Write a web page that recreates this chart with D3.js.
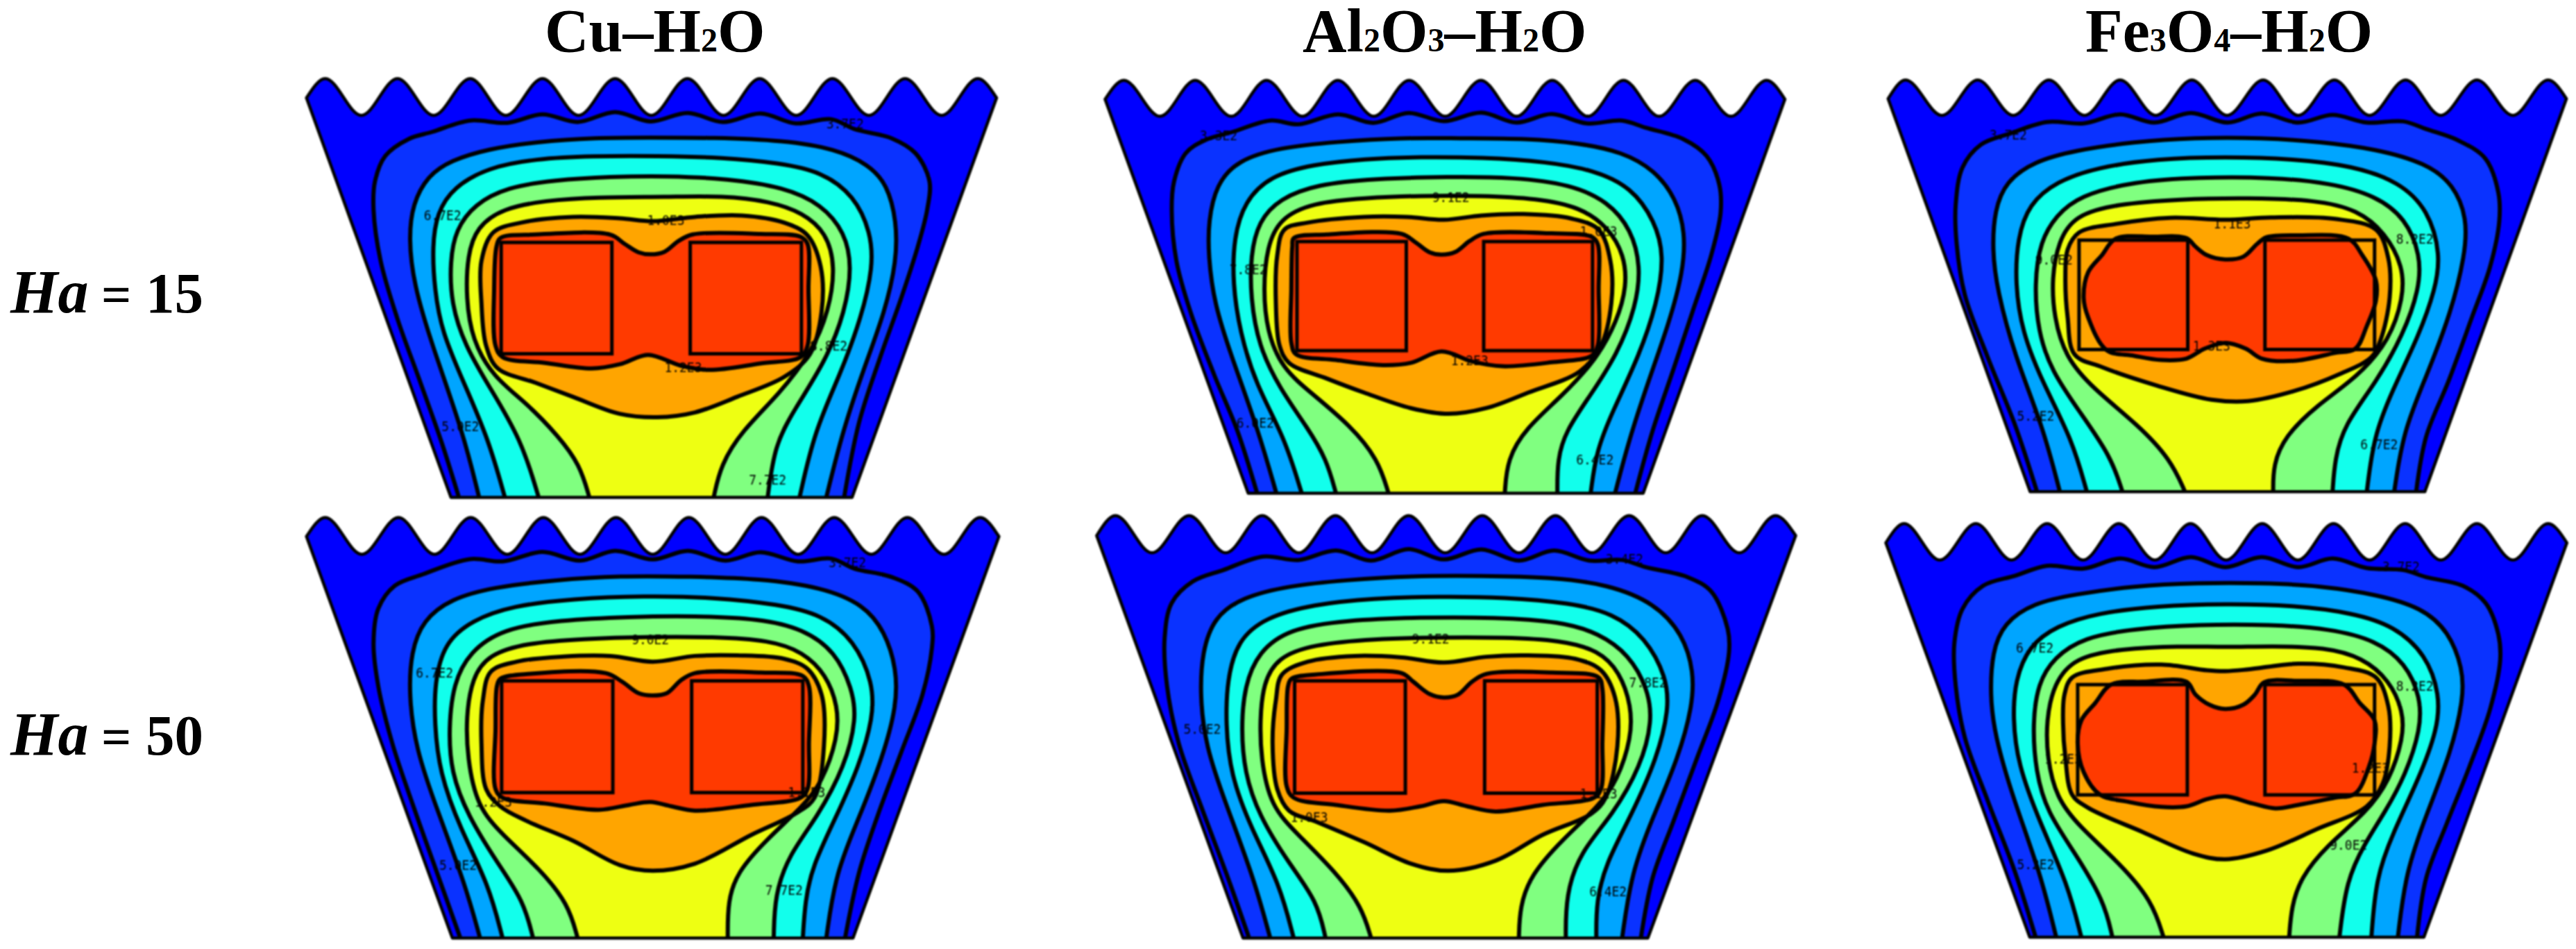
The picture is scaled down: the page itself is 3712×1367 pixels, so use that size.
<!DOCTYPE html>
<html>
<head>
<meta charset="utf-8">
<script src="https://cdn.jsdelivr.net/npm/d3@7"></script>
<style>
  html, body { margin: 0; background: #fff; }
  .title { font-family: "Liberation Serif", serif; font-weight: bold; }
  .iso { font-family: "DejaVu Sans Mono", monospace; font-size: 19px; fill: #000; text-anchor: middle; dominant-baseline: central; }
</style>
</head>
<body>
<div class="chart"></div>
<script>
// DATA ------------------------------------

const columnTitles = [
  [['Cu–H', 0], ['2', 1], ['O', 0]],
  [['Al', 0], ['2', 1], ['O', 0], ['3', 1], ['–H', 0], ['2', 1], ['O', 0]],
  [['Fe', 0], ['3', 1], ['O', 0], ['4', 1], ['–H', 0], ['2', 1], ['O', 0]],
];
const rowValues = [15, 50];

// temperature band colours, coolest (wall) to hottest (block)
const bandLevels = [0, 1, 2, 3, 4, 5, 6, 7];
const bandColors = ['#0000ff', '#0a32ff', '#00a5ff', '#12ffec', '#80ff80', '#eeff12', '#ffa500', '#ff3a00'];

// wavy top wall of each cavity: x of crests, x of troughs, y crest, y trough, y corner
const crestX = [
  [72, 226, 381, 535, 690, 844, 998, 1153, 1308, 1463],
  [88, 240, 392, 544, 696, 849, 1001, 1153, 1306, 1458],
  [100, 258, 414, 570, 727, 883, 1039, 1195, 1351, 1507],
  [72, 228, 382, 537, 692, 847, 1002, 1157, 1313, 1468],
  [70, 227, 383, 539, 695, 852, 1008, 1165, 1321, 1477],
  [97, 254, 410, 567, 724, 881, 1037, 1194, 1351, 1507],
];
const troughX = [
  [149, 303, 457, 612, 767, 921, 1076, 1231, 1386],
  [165, 317, 469, 621, 773, 925, 1077, 1229, 1382],
  [180, 336, 492, 648, 804, 960, 1116, 1272, 1430],
  [150, 305, 460, 615, 770, 925, 1080, 1236, 1391],
  [148, 305, 461, 617, 773, 930, 1086, 1243, 1400],
  [175, 332, 489, 646, 802, 959, 1116, 1272, 1430],
];
const crestY = [57, 63, 62, 62, 55, 83];
const troughY = [187, 190, 187, 190, 185, 210];
const cornerY = [125, 130, 128, 128, 125, 150];
const cornerX = [[32, 1503], [48, 1497], [62, 1547], [32, 1508], [30, 1520], [57, 1548]];
const baseX = [[340, 1195], [353, 1195], [373, 1237], [343, 1197], [342, 1205], [372, 1235]];
const baseY = [1535, 1520, 1515, 1530, 1530, 1527];

// heated blocks: left x0, x1, right x0, x1, top, bottom
const blocks = [
  [447, 683, 850, 1087, 635, 1028],
  [457, 690, 855, 1087, 632, 1017],
  [480, 718, 887, 1127, 627, 1013],
  [448, 685, 853, 1090, 632, 1022],
  [452, 688, 857, 1097, 632, 1024],
  [477, 717, 887, 1127, 645, 1030],
];

const cuHa15 = [
  [[357,1535],[320,1340],[275,1130],[225,900],[190,700],[175,520],[178,420],[200,330],[250,270],[300,245],[380,205],[460,213],[535,183],[610,210],[690,175],[765,208],[845,178],[920,210],[1000,180],[1075,215],[1150,200],[1200,235],[1280,268],[1330,320],[1360,420],[1355,520],[1335,650],[1300,830],[1255,1040],[1210,1270],[1178,1535]],
  [[400,1535],[365,1300],[300,1000],[260,780],[250,620],[258,500],[290,400],[340,345],[420,305],[520,280],[650,265],[760,265],[900,265],[1050,275],[1160,305],[1230,360],[1270,430],[1290,560],[1290,700],[1265,880],[1220,1080],[1175,1300],[1140,1535]],
  [[455,1535],[420,1330],[370,1140],[320,950],[305,800],[300,650],[310,530],[345,440],[420,370],[520,340],[640,330],[780,330],[920,335],[1040,355],[1130,385],[1200,470],[1235,600],[1240,720],[1215,900],[1170,1100],[1115,1300],[1083,1535]],
  [[527,1535],[490,1330],[420,1140],[370,1000],[340,850],[338,700],[350,590],[390,500],[460,440],[560,415],[680,403],[800,400],[930,410],[1050,440],[1130,500],[1180,600],[1195,720],[1180,880],[1140,1050],[1070,1230],[1030,1350],[1015,1535]],
  [[635,1535],[615,1420],[570,1320],[500,1200],[430,1110],[385,980],[372,830],[375,680],[395,580],[450,515],[540,487],[650,475],[800,475],[920,470],[1020,490],[1090,530],[1140,600],[1160,720],[1145,880],[1110,1020],[1040,1170],[960,1300],[915,1420],[900,1535]],
  [[430,600],[490,565],[600,545],[700,550],[770,560],[860,545],[960,540],[1050,565],[1100,610],[1128,720],[1130,880],[1105,1030],[1050,1110],[950,1180],[860,1235],[780,1252],[700,1240],[600,1180],[520,1130],[440,1080],[415,1000],[405,850],[405,700]],
  [[445,620],[520,607],[680,608],[710,640],[740,670],[765,677],[795,668],[825,630],[855,607],[1000,605],[1085,615],[1100,640],[1102,800],[1100,1000],[1085,1040],[1000,1062],[890,1085],[830,1070],[760,1032],[700,1065],[640,1080],[540,1060],[450,1040],[435,1000],[432,800],[437,650]],
];
const alHa15 = [
  [[372,1520],[330,1300],[280,1100],[230,880],[200,700],[190,520],[195,420],[220,320],[260,275],[320,245],[400,205],[460,218],[545,183],[620,213],[695,178],[770,207],[850,177],[925,212],[1000,182],[1075,215],[1150,205],[1200,230],[1280,270],[1330,330],[1357,430],[1360,530],[1340,680],[1300,880],[1260,1080],[1215,1300],[1178,1520]],
  [[413,1520],[375,1300],[320,1050],[280,850],[268,680],[268,560],[285,430],[330,345],[420,300],[540,280],[680,265],[800,268],[950,268],[1060,285],[1150,315],[1220,380],[1265,480],[1285,600],[1280,740],[1250,920],[1205,1130],[1165,1330],[1135,1520]],
  [[467,1520],[430,1320],[370,1140],[335,950],[320,780],[322,620],[345,490],[400,400],[490,360],[600,340],[720,333],[850,335],[990,350],[1090,380],[1170,440],[1220,560],[1240,680],[1225,850],[1185,1040],[1130,1230],[1095,1370],[1083,1520]],
  [[540,1520],[520,1400],[480,1290],[420,1150],[375,1000],[358,830],[358,680],[375,560],[420,480],[500,430],[620,410],[780,403],[920,405],[1040,430],[1120,490],[1170,590],[1190,720],[1180,860],[1140,1030],[1080,1180],[1030,1300],[1012,1400],[1012,1520]],
  [[652,1520],[630,1400],[570,1280],[490,1170],[425,1080],[393,950],[385,800],[393,650],[420,550],[490,495],[600,478],[720,470],[850,470],[970,480],[1060,510],[1120,580],[1155,680],[1160,790],[1140,910],[1095,1050],[1020,1180],[945,1290],[905,1400],[900,1520]],
  [[430,590],[480,565],[600,545],[690,545],[770,555],[850,540],[940,535],[1040,550],[1100,590],[1125,700],[1127,850],[1105,1000],[1060,1090],[950,1165],[860,1220],[780,1240],[700,1220],[600,1165],[520,1115],[440,1060],[420,1000],[412,850],[415,680]],
  [[450,620],[520,607],[680,605],[710,635],[740,670],[765,678],[795,668],[825,630],[855,605],[1000,603],[1085,615],[1098,640],[1100,800],[1098,1000],[1085,1035],[1000,1058],[895,1072],[830,1055],[765,1020],[700,1060],[640,1068],[540,1050],[455,1030],[445,990],[445,800],[447,650]],
];
const feHa15 = [
  [[388,1515],[340,1280],[280,1040],[230,820],[212,640],[210,500],[225,370],[265,290],[330,250],[410,210],[490,215],[570,183],[645,212],[725,178],[805,212],[880,180],[960,212],[1035,185],[1110,212],[1190,208],[1240,235],[1310,275],[1370,340],[1398,460],[1400,560],[1380,720],[1340,900],[1290,1120],[1240,1320],[1218,1515]],
  [[438,1515],[400,1280],[340,1040],[300,800],[290,660],[295,520],[320,420],[380,350],[470,310],[600,280],[730,265],[880,265],[1010,280],[1130,305],[1240,355],[1300,430],[1330,550],[1325,680],[1295,880],[1240,1110],[1190,1300],[1170,1515]],
  [[497,1515],[465,1330],[400,1130],[355,950],[340,780],[345,620],[370,500],[430,420],[520,370],[650,340],[800,333],[950,340],[1080,365],[1180,420],[1245,520],[1272,680],[1260,800],[1225,960],[1165,1160],[1125,1320],[1110,1515]],
  [[575,1515],[550,1390],[480,1230],[420,1090],[390,950],[382,780],[395,630],[430,540],[480,470],[600,420],[740,405],[900,405],[1030,425],[1130,470],[1195,550],[1228,680],[1225,800],[1190,960],[1130,1130],[1060,1280],[1040,1400],[1035,1515]],
  [[712,1515],[680,1400],[610,1280],[510,1150],[450,1040],[425,900],[420,760],[435,630],[470,540],[560,500],[700,482],[850,478],[1000,485],[1090,520],[1150,600],[1190,720],[1190,830],[1160,980],[1090,1110],[1000,1210],[930,1320],[905,1420],[905,1515]],
  [[480,600],[560,570],[680,548],[800,555],[900,547],[1040,552],[1130,590],[1157,690],[1160,830],[1140,980],[1120,1040],[1050,1100],[950,1160],[850,1195],[770,1190],[650,1140],[530,1075],[470,1030],[455,900],[450,760],[455,660]],
  [[560,622],[640,615],[715,620],[735,650],[760,680],[800,695],[840,685],[870,640],[890,617],[960,610],[1070,622],[1100,680],[1130,770],[1130,840],[1110,930],[1085,1010],[1040,1025],[950,1053],[880,1045],[845,1010],[800,990],[755,1010],[715,1045],[660,1050],[600,1035],[540,1015],[500,900],[490,830],[500,740],[530,680]],
];
const cuHa50 = [
  [[360,1530],[310,1300],[260,1070],[215,850],[185,650],[175,500],[185,380],[220,300],[280,260],[380,207],[450,215],[535,182],[615,212],[690,178],[770,208],[845,178],[925,212],[1000,183],[1080,215],[1150,205],[1200,240],[1280,270],[1335,320],[1365,440],[1365,520],[1345,680],[1300,880],[1250,1100],[1210,1300],[1180,1530]],
  [[402,1530],[370,1340],[310,1080],[265,870],[250,680],[255,530],[280,420],[340,345],[430,305],[560,280],[700,265],[850,268],[1000,275],[1130,305],[1220,365],[1265,460],[1290,590],[1290,720],[1260,900],[1210,1110],[1160,1300],[1140,1530]],
  [[450,1530],[420,1340],[360,1150],[315,950],[305,780],[305,640],[325,500],[385,420],[470,370],[600,345],[750,335],[900,340],[1040,365],[1130,400],[1200,490],[1240,640],[1240,760],[1210,930],[1160,1110],[1110,1280],[1095,1400],[1090,1530]],
  [[515,1530],[495,1400],[440,1270],[375,1100],[340,950],[335,800],[345,640],[380,530],[450,450],[570,420],[720,408],[860,405],[1000,415],[1090,450],[1160,530],[1195,660],[1205,760],[1180,930],[1120,1110],[1060,1240],[1030,1380],[1028,1530]],
  [[610,1530],[590,1410],[530,1290],[450,1170],[395,1070],[375,900],[372,760],[385,620],[420,540],[500,500],[620,485],[760,478],[900,478],[1020,490],[1090,530],[1140,610],[1165,720],[1165,830],[1130,990],[1090,1070],[1010,1190],[950,1300],[930,1400],[930,1530]],
  [[425,600],[480,565],[580,547],[680,545],[770,565],[860,545],[950,543],[1050,555],[1100,590],[1130,680],[1135,860],[1115,1040],[1080,1090],[980,1170],[860,1270],[770,1295],[700,1275],[600,1190],[500,1120],[445,1070],[415,1010],[405,850],[408,700]],
  [[445,625],[510,607],[670,605],[705,635],[740,675],[768,683],[800,675],[830,630],[860,605],[1000,603],[1090,615],[1103,650],[1103,850],[1100,1010],[1085,1040],[980,1065],[860,1085],[810,1070],[765,1055],[720,1065],[655,1082],[540,1060],[450,1040],[435,1010],[435,800],[438,650]],
];
const alHa50 = [
  [[355,1530],[310,1320],[255,1080],[205,850],[180,650],[175,480],[190,360],[235,285],[300,245],[385,198],[460,210],[540,177],[615,212],[695,172],[770,208],[850,173],[930,212],[1005,177],[1080,212],[1150,210],[1200,235],[1290,270],[1340,320],[1375,450],[1378,530],[1355,700],[1310,900],[1260,1120],[1215,1320],[1190,1530]],
  [[400,1530],[365,1320],[305,1060],[262,860],[250,680],[255,530],[280,410],[340,340],[440,300],[560,280],[700,265],[850,265],[1000,270],[1120,295],[1220,360],[1280,470],[1303,600],[1300,720],[1270,900],[1215,1110],[1170,1300],[1150,1530]],
  [[450,1530],[420,1340],[360,1150],[315,960],[305,780],[308,630],[330,490],[390,410],[490,365],[620,343],[760,337],[900,340],[1040,360],[1130,395],[1200,480],[1245,620],[1250,730],[1225,900],[1170,1100],[1115,1270],[1095,1400],[1095,1530]],
  [[518,1530],[500,1400],[440,1270],[375,1100],[345,950],[338,800],[345,650],[375,530],[440,450],[560,420],[720,410],[880,410],[1020,425],[1100,465],[1165,540],[1205,660],[1215,770],[1190,930],[1130,1100],[1060,1230],[1030,1380],[1030,1530]],
  [[615,1530],[595,1420],[540,1300],[460,1170],[400,1070],[380,900],[378,770],[385,640],[415,550],[490,505],[620,485],[760,480],[900,480],[1020,490],[1100,525],[1145,600],[1170,720],[1170,830],[1140,980],[1100,1070],[1020,1190],[955,1310],[932,1420],[930,1530]],
  [[425,610],[480,565],[580,545],[680,550],[770,568],[860,548],[950,543],[1050,555],[1105,595],[1135,690],[1140,860],[1115,1040],[1085,1095],[980,1170],[880,1260],[780,1295],[700,1270],[600,1195],[500,1125],[440,1085],[415,1010],[405,850],[412,700]],
  [[445,625],[510,608],[680,605],[705,635],[740,678],[770,690],[800,680],[830,635],[860,608],[1000,603],[1100,620],[1108,660],[1108,850],[1105,1010],[1090,1040],[980,1065],[880,1088],[820,1070],[770,1052],[720,1070],[655,1085],[540,1065],[450,1040],[435,1000],[435,800],[438,650]],
];
const feHa50 = [
  [[385,1527],[340,1300],[280,1050],[230,830],[210,650],[207,500],[225,380],[270,300],[340,265],[410,230],[490,240],[570,205],[645,235],[725,200],[800,235],[880,200],[960,235],[1035,205],[1110,238],[1190,245],[1240,270],[1320,300],[1370,360],[1398,470],[1402,560],[1380,730],[1335,930],[1285,1130],[1240,1320],[1220,1527]],
  [[430,1527],[395,1300],[335,1040],[295,820],[285,680],[290,530],[315,430],[380,360],[470,330],[600,300],[740,290],[880,290],[1010,300],[1130,330],[1230,375],[1290,460],[1320,590],[1322,690],[1295,880],[1240,1100],[1195,1300],[1178,1527]],
  [[485,1527],[455,1340],[395,1130],[345,920],[335,760],[340,630],[370,510],[430,440],[520,395],[650,370],[800,363],[950,368],[1080,395],[1170,440],[1240,540],[1270,680],[1265,800],[1225,970],[1165,1170],[1130,1320],[1120,1527]],
  [[553,1527],[535,1400],[470,1230],[410,1090],[385,950],[378,780],[390,640],[425,550],[490,480],[600,450],[740,435],[900,435],[1030,450],[1130,490],[1195,570],[1228,690],[1228,800],[1195,960],[1150,1090],[1105,1200],[1065,1330],[1050,1527]],
  [[665,1527],[640,1400],[570,1270],[480,1140],[430,1040],[410,900],[408,770],[425,640],[470,550],[570,520],[700,510],[800,515],[900,510],[1020,515],[1100,550],[1160,630],[1190,740],[1190,830],[1160,980],[1110,1090],[1020,1210],[965,1320],[945,1420],[940,1527]],
  [[465,620],[540,590],[660,575],[760,595],[800,598],[850,592],[960,572],[1060,585],[1130,620],[1157,720],[1160,860],[1145,990],[1110,1070],[1000,1150],[890,1225],[800,1255],[730,1235],[620,1160],[500,1075],[465,1030],[450,900],[445,780],[448,680]],
  [[550,645],[620,635],[715,635],[735,680],[765,715],[800,730],[840,715],[865,680],[885,637],[960,632],[1060,645],[1095,710],[1127,770],[1127,850],[1115,930],[1085,1025],[1040,1040],[960,1065],[910,1077],[860,1060],[800,1035],[760,1045],[715,1070],[660,1072],[590,1055],[525,1028],[490,950],[477,850],[485,770],[515,710]],
];
const panelContours = [cuHa15, alHa15, feHa15, cuHa50, alHa50, feHa50];

// contour value labels, [text, x, y]
const panelLabels = [
  [['3.7E2',1180,215],['6.7E2',322,540],['1.0E3',798,555],['8.8E2',1145,1000],['1.2E3',835,1075],['5.0E2',360,1285],['7.7E2',1015,1472]],
  [['3.3E2',290,258],['7.8E2',353,730],['9.1E2',785,475],['1.0E3',1100,595],['1.2E3',825,1050],['6.0E2',368,1272],['6.4E2',1092,1402]],
  [['3.7E2',325,255],['9.0E2',425,697],['1.1E3',815,568],['8.2E2',1215,622],['1.3E3',770,1000],['5.2E2',385,1247],['6.7E2',1137,1347]],
  [['3.7E2',1185,218],['6.7E2',305,603],['9.0E2',765,488],['1.1E3',1098,1020],['1.2E3',430,1055],['5.0E2',355,1275],['7.7E2',1050,1362]],
  [['3.4E2',1155,205],['5.0E2',255,800],['9.1E2',742,485],['7.8E2',1205,638],['1.1E3',1100,1025],['1.0E3',483,1107],['6.4E2',1120,1368]],
  [['3.7E2',1185,232],['6.7E2',383,515],['8.2E2',1215,650],['1.2E3',445,905],['1.2E3',1118,935],['9.0E2',1070,1205],['5.2E2',385,1272]],
];

// CHART INIT ------------------------------

const svg = d3
  .select('.chart')
  .append('svg')
  .attr('width', 3712)
  .attr('height', 1367);

// each panel is read in a 1568x1568 grid laid over its own frame
const frameX = [420, 1560, 2680];
const frameW = [1060, 1060, 1032];
const frameY = [90, 720];
const frameH = [640, 647];
const gridDomain = [0, 1568];

const bandColor = d3.scaleOrdinal().domain(bandLevels).range(bandColors);

panelContours.forEach((contours, i) => {
  const col = i % 3;
  const row = Math.floor(i / 3);
  const xScale = d3.scaleLinear().domain(gridDomain).range([frameX[col], frameX[col] + frameW[col]]);
  const yScale = d3.scaleLinear().domain(gridDomain).range([frameY[row], frameY[row] + frameH[row]]);

  const lineWith = (curve) => d3.line().x((d) => xScale(d[0])).y((d) => yScale(d[1])).curve(curve);
  const wiggly = lineWith(d3.curveCatmullRom.alpha(0.5));
  const smooth = lineWith(d3.curveBasis);
  const loop = lineWith(d3.curveCatmullRomClosed.alpha(0.5));
  const wavy = lineWith(d3.curveMonotoneX);

  // first contour follows the wall ripple, next four are smooth, last two are loops
  const contourPath = (pts, c) => (c === 0 ? wiggly(pts) : c < 5 ? smooth(pts) : loop(pts));

  // outline of the cavity: corner, crests and troughs, corner, then the base
  const wave = [[cornerX[i][0], cornerY[i]]];
  crestX[i].forEach((x, k) => {
    wave.push([x, crestY[i]]);
    if (k < troughX[i].length) wave.push([troughX[i][k], troughY[i]]);
  });
  wave.push([cornerX[i][1], cornerY[i]]);
  const outline = wavy(wave)
    + 'L' + xScale(baseX[i][1]) + ',' + yScale(baseY[i])
    + 'L' + xScale(baseX[i][0]) + ',' + yScale(baseY[i]) + 'Z';

  const group = svg.append('g').style('filter', 'blur(1.1px)');

  group.append('clipPath').attr('id', 'clip' + i).append('path').attr('d', outline);
  group.append('path').attr('d', outline).attr('fill', bandColor(0));

  const inner = group.append('g').attr('clip-path', 'url(#clip' + i + ')');

  contours.forEach((pts, c) => {
    inner.append('path')
      .attr('d', contourPath(pts, c) + (c < 5 ? 'Z' : ''))
      .attr('fill', bandColor(c + 1));
  });
  contours.forEach((pts, c) => {
    inner.append('path')
      .attr('d', contourPath(pts, c))
      .attr('fill', 'none')
      .attr('stroke', '#000')
      .attr('stroke-width', 6);
  });

  // heated blocks
  const b = blocks[i];
  [[b[0], b[1]], [b[2], b[3]]].forEach((r) => {
    group.append('rect')
      .attr('x', xScale(r[0]))
      .attr('y', yScale(b[4]))
      .attr('width', xScale(r[1]) - xScale(r[0]))
      .attr('height', yScale(b[5]) - yScale(b[4]))
      .attr('fill', 'none')
      .attr('stroke', '#000')
      .attr('stroke-width', 5);
  });

  group.append('path')
    .attr('d', outline)
    .attr('fill', 'none')
    .attr('stroke', '#000')
    .attr('stroke-width', 4.5)
    .attr('stroke-linejoin', 'round');

  group.selectAll('text.iso')
    .data(panelLabels[i])
    .enter()
    .append('text')
    .attr('class', 'iso')
    .attr('x', (d) => xScale(d[1]))
    .attr('y', (d) => yScale(d[2]))
    .attr('textLength', 54)
    .attr('lengthAdjust', 'spacingAndGlyphs')
    .text((d) => d[0]);
});

// column titles
const titleX = [785, 1877, 3005];
columnTitles.forEach((parts, i) => {
  const t = svg.append('text')
    .attr('class', 'title')
    .attr('x', titleX[i])
    .attr('y', 74)
    .attr('font-size', 88);
  parts.forEach((p) => {
    t.append('tspan').attr('font-size', p[1] ? 48 : 88).text(p[0]);
  });
});

// row labels
const rowY = [450, 1087];
rowValues.forEach((v, i) => {
  const t = svg.append('text')
    .attr('class', 'title')
    .attr('y', rowY[i])
    .attr('x', 15)
    .attr('font-size', 88);
  t.append('tspan').attr('font-style', 'italic').text('Ha');
  t.append('tspan').attr('x', 146).attr('font-size', 76).text('=');
  t.append('tspan').attr('x', 210).attr('font-size', 83).text(v);
});
</script>
</body>
</html>
